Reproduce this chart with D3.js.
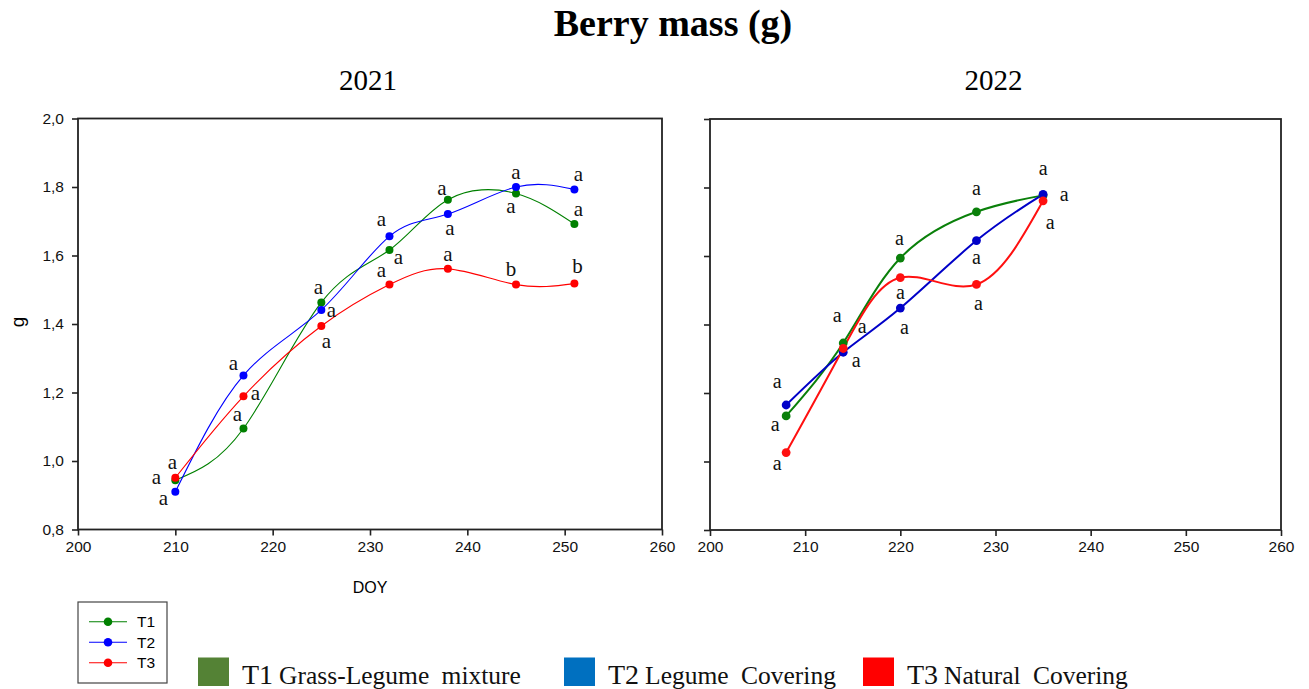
<!DOCTYPE html>
<html>
<head>
<meta charset="utf-8">
<script src="https://cdn.jsdelivr.net/npm/d3@7"></script>
<style>
  html, body { margin: 0; padding: 0; background: #fff; }
  svg { display: block; }
</style>
</head>
<body>
<svg id="chart" width="1309" height="689"></svg>
<script>
// ---- data ----
const doy2021 = [210, 217, 225, 232, 238, 245, 251];
const t1_2021 = [0.944, 1.095, 1.463, 1.616, 1.763, 1.781, 1.692];
const t2_2021 = [0.910, 1.250, 1.441, 1.656, 1.721, 1.800, 1.793];
const t3_2021 = [0.951, 1.189, 1.394, 1.515, 1.561, 1.515, 1.518];
const sig1_2021 = ["a", "a", "a", "a", "a", "a", "a"];
const sig2_2021 = ["a", "a", "a", "a", "a", "a", "a"];
const sig3_2021 = ["a", "a", "a", "a", "a", "b", "b"];

const doy2022 = [208, 214, 220, 228, 235];
const t1_2022 = [1.133, 1.346, 1.594, 1.729, 1.777];
const t2_2022 = [1.165, 1.319, 1.448, 1.645, 1.780];
const t3_2022 = [1.026, 1.330, 1.537, 1.517, 1.761];
const sig1_2022 = ["a", "a", "a", "a", "a"];
const sig2_2022 = ["a", "a", "a", "a", "a"];
const sig3_2022 = ["a", "a", "a", "a", "a"];

const xTicks = [200, 210, 220, 230, 240, 250, 260];
const yTicks = [0.8, 1.0, 1.2, 1.4, 1.6, 1.8, 2.0];
const seriesNames = ["T1", "T2", "T3"];
const treatmentNames = ["Grass-Legume mixture", "Legume Covering", "Natural Covering"];

// ---- layout ----
// where each significance letter sits relative to its point (dx, dy of letter centre)
const letterOffsets2021 = [
  [[-19, -1], [-6, -12], [-3, -13], [9, 9], [-6, -10], [-5, 15], [4, -13]],
  [[-12, 8], [-10, -10], [10, 2], [-8, -15], [2, 16], [0, -13], [4, -13]],
  [[-3, -14], [12, -1], [5, 17], [-8, -12], [0, -13], [-5, -13], [3, -15]]
];
const letterOffsets2022 = [
  [[-11, 10], [-6, -26], [-1, -18], [0, -21], [21, 1]],
  [[-9, -22], [13, 10], [4, 21], [0, 19], [0, -24]],
  [[-9, 13], [19, -20], [0, 17], [2, 21], [7, 24]]
];

const SANS = "'Liberation Sans', Arial, sans-serif";
const SERIF = "'Liberation Serif', 'Times New Roman', serif";

const svg = d3.select("#chart");

svg.append("text")
  .attr("x", 673).attr("y", 36)
  .attr("text-anchor", "middle")
  .attr("font-family", SERIF)
  .attr("font-weight", "bold")
  .attr("font-size", 38)
  .text("Berry mass (g)");

const fmt = d => d3.format(".1f")(d).replace(".", ",");

function drawPanel(opts) {
  const { x0, x1, y0, y1, title, doy, series, sigs, offsets, colors,
          lineWidth, dotR, letterSize, showYLabels } = opts;
  const x = d3.scaleLinear().domain([200, 260]).range([x0, x1]);
  const y = d3.scaleLinear().domain([0.8, 2.0]).range([y1, y0]);
  const g = svg.append("g");

  g.append("text")
    .attr("x", (x0 + x1) / 2 - 2).attr("y", 90)
    .attr("text-anchor", "middle")
    .attr("font-family", SERIF)
    .attr("font-size", 29)
    .text(title);

  // x axis
  const xa = g.append("g").attr("transform", `translate(0,${y1})`)
    .call(d3.axisBottom(x).tickValues(xTicks).tickSize(6).tickSizeOuter(0).tickPadding(5).tickFormat(d3.format("d")));
  xa.select(".domain").remove();
  xa.selectAll("line").attr("stroke", "#222").attr("stroke-width", 1.6);
  xa.selectAll("text").attr("font-family", SANS)
    .attr("font-size", 15.5).attr("fill", "#111");

  // y axis
  const ya = g.append("g").attr("transform", `translate(${x0},0)`)
    .call(d3.axisLeft(y).tickValues(yTicks).tickSize(6).tickSizeOuter(0).tickPadding(8)
      .tickFormat(showYLabels ? fmt : () => ""));
  ya.select(".domain").remove();
  ya.selectAll("line").attr("stroke", "#222").attr("stroke-width", 1.6);
  ya.selectAll("text").attr("font-family", SANS)
    .attr("font-size", 15.5).attr("fill", "#111");

  // frame
  g.append("rect")
    .attr("x", x0).attr("y", y0)
    .attr("width", x1 - x0).attr("height", y1 - y0)
    .attr("fill", "none").attr("stroke", "#222").attr("stroke-width", 1.8);

  const line = d3.line().x(d => x(d[0])).y(d => y(d[1])).curve(d3.curveNatural);

  series.forEach((vals, si) => {
    const pts = doy.map((d, i) => [d, vals[i]]);
    g.append("path").datum(pts)
      .attr("d", line)
      .attr("fill", "none")
      .attr("stroke", colors[si])
      .attr("stroke-width", lineWidth);
  });
  series.forEach((vals, si) => {
    g.selectAll(null).data(doy.map((d, i) => [d, vals[i]])).enter()
      .append("circle")
      .attr("cx", d => x(d[0])).attr("cy", d => y(d[1]))
      .attr("r", dotR).attr("fill", colors[si]);
  });
  series.forEach((vals, si) => {
    g.selectAll(null).data(doy.map((d, i) => ({ d, v: vals[i], s: sigs[si][i], o: offsets[si][i] }))).enter()
      .append("text")
      .attr("x", p => x(p.d) + p.o[0])
      .attr("y", p => y(p.v) + p.o[1] + letterSize * 0.23)
      .attr("text-anchor", "middle")
      .attr("font-family", SERIF)
      .attr("font-size", letterSize)
      .attr("fill", "#111")
      .text(p => p.s);
  });
  return { x, y };
}

drawPanel({
  x0: 78, x1: 662, y0: 118.5, y1: 529.5, title: "2021",
  doy: doy2021, series: [t1_2021, t2_2021, t3_2021],
  sigs: [sig1_2021, sig2_2021, sig3_2021], offsets: letterOffsets2021,
  colors: ["#008000", "#0000ff", "#ff0000"],
  lineWidth: 1.1, dotR: 4, letterSize: 21, showYLabels: true
});

drawPanel({
  x0: 710, x1: 1281, y0: 119, y1: 530, title: "2022",
  doy: doy2022, series: [t1_2022, t2_2022, t3_2022],
  sigs: [sig1_2022, sig2_2022, sig3_2022], offsets: letterOffsets2022,
  colors: ["#0a800a", "#0000c8", "#ff1010"],
  lineWidth: 2, dotR: 4.4, letterSize: 20, showYLabels: false
});

// axis titles
svg.append("text")
  .attr("transform", "translate(24,322) rotate(-90)")
  .attr("text-anchor", "middle")
  .attr("font-family", SANS)
  .attr("font-size", 19)
  .text("g");
svg.append("text")
  .attr("x", 370).attr("y", 593)
  .attr("text-anchor", "middle")
  .attr("font-family", SANS)
  .attr("font-size", 16)
  .text("DOY");

// series legend
const lg = svg.append("g");
lg.append("rect").attr("x", 78).attr("y", 602).attr("width", 89).attr("height", 81)
  .attr("fill", "#fff").attr("stroke", "#444").attr("stroke-width", 1.2);
const lgColors = ["#008000", "#0000ff", "#ff0000"];
seriesNames.forEach((n, i) => {
  const yy = 621.7 + i * 20.5;
  lg.append("line").attr("x1", 89).attr("x2", 127).attr("y1", yy).attr("y2", yy)
    .attr("stroke", lgColors[i]).attr("stroke-width", 1.1);
  lg.append("circle").attr("cx", 108).attr("cy", yy).attr("r", 4.3).attr("fill", lgColors[i]);
  lg.append("text").attr("x", 137).attr("y", yy + 5.5)
    .attr("font-family", SANS)
    .attr("font-size", 15.5)
    .text(n);
});

// treatment key
const keyColors = ["#548235", "#0070c0", "#ff0000"];
const keyX = [198, 564, 863];
treatmentNames.forEach((n, i) => {
  svg.append("rect").attr("x", keyX[i]).attr("y", 657.5).attr("width", 31).attr("height", 28.5)
    .attr("fill", keyColors[i]);
  const t = svg.append("text").attr("x", keyX[i] + 44).attr("y", 683.5)
    .attr("font-family", SERIF)
    .attr("fill", "#111");
  t.append("tspan").attr("font-size", 28).text(seriesNames[i]);
  t.append("tspan").attr("font-size", 25.5).attr("dx", 6).attr("word-spacing", 6).text(n);
});
</script>
</body>
</html>
